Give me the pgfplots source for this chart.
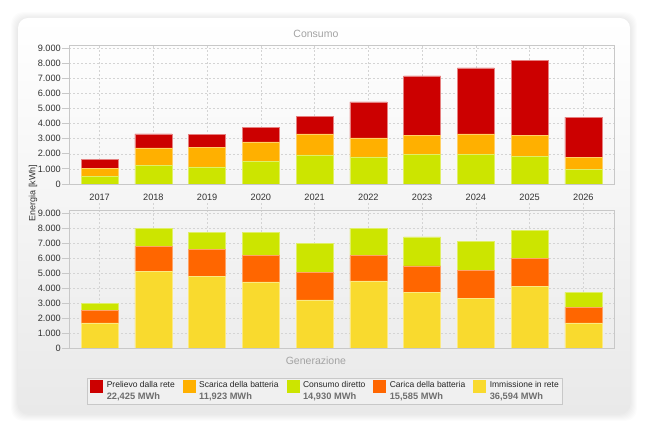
\documentclass[border=0pt]{standalone}
\usepackage{pgfplots}
\pgfplotsset{compat=1.18}
\usepackage{pgfplotstable}
\usepackage{fontspec}
\setmainfont{Liberation Sans}

\definecolor{cRed}{HTML}{CC0000}
\definecolor{cOra}{HTML}{FFB000}
\definecolor{cGrn}{HTML}{CCE500}
\definecolor{cDor}{HTML}{FF6600}
\definecolor{cYel}{HTML}{F9DA2E}
\definecolor{panelbot}{HTML}{E9E9E9}
\definecolor{ttl}{HTML}{A3A3A3}
\definecolor{tickc}{HTML}{333333}
\definecolor{legnum}{HTML}{6E6E6E}
\definecolor{framec}{HTML}{C8C8C8}
\definecolor{gridc}{HTML}{D4D4D4}
\definecolor{legbg}{HTML}{F0F0F0}

\pgfplotstableread{
x g o r
0 480 540 598
1 1210 1184 931
2 1130 1309 842
3 1520 1273 954
4 1930 1395 1153
5 1800 1259 2372
6 1940 1275 3946
7 1975 1350 4368
8 1840 1375 4966
9 990 761 2683
}\topdata

\pgfplotstableread{
x y c g
0 1667 822 480
1 5089 1667 1210
2 4778 1778 1130
3 4400 1778 1520
4 3200 1822 1930
5 4467 1689 1800
6 3711 1756 1940
7 3333 1823 1975
8 4089 1889 1840
9 1667 1044 990
}\botdata

\newcommand{\legtxt}[2]{\begin{tabular}{@{}l@{}}#1\\\textcolor{legnum}{\fontsize{9.3bp}{12.3bp}\selectfont\bfseries #2}\end{tabular}}

\pgfplotsset{
  common/.style={
    scale only axis, width=545bp,
    ybar stacked, bar width=37bp,
    xmin=-0.57, xmax=9.57, ymin=0, ymax=9200,
    ytick={0,1000,...,9000},
    xtick={0,...,9},
    grid=major,
    grid style={gridc, dash pattern=on 2bp off 2bp, line width=0.5bp},
    axis line style={framec, line width=0.8bp},
    tick align=outside, major tick length=7bp,
    ytick pos=left,
    y tick style={framec, line width=0.8bp},
    yticklabel style={font=\fontsize{9.2bp}{11bp}\selectfont, text=tickc, inner sep=1bp},
    xticklabel style={font=\fontsize{9.2bp}{11bp}\selectfont, text=tickc},
    scaled y ticks=false,
    /pgf/number format/1000 sep={.},
    /pgf/number format/assume math mode=true,
  },
  sqimg/.style={legend image code/.code={\fill[#1] (0bp,-1.5bp) rectangle (12bp,10.5bp);}},
}

\begin{document}
\begin{tikzpicture}[font=\fontsize{9bp}{11bp}\selectfont]
\useasboundingbox (0,0) rectangle (648bp,432bp);
\fill[white] (0,0) rectangle (648bp,432bp);
\foreach \k in {1,...,7} {
  \fill[black, opacity=0.012, rounded corners=12bp] ({(18-\k)*1bp},{(18-\k)*1bp}) rectangle ({(630+\k)*1bp},{(413+\k)*1bp});
}
\shade[top color=white, bottom color=panelbot, rounded corners=10bp] (18bp,19bp) rectangle (630bp,414bp);

\begin{axis}[common,
  at={(69bp,248bp)}, anchor=south west, height=139bp,
  xtick pos=left,
  x tick style={draw=none},
  xticklabels={2017,2018,2019,2020,2021,2022,2023,2024,2025,2026},
  title=Consumo,
  title style={at={(axis description cs:0.453,1)}, anchor=center, yshift=5bp,
    font=\fontsize{10.5bp}{12bp}\selectfont, text=ttl},
  ylabel={Energia [kWh]},
  ylabel style={at={(axis description cs:-0.066,-0.065)}, anchor=center, text=tickc,
    font=\fontsize{9bp}{11bp}\selectfont},
]
\addplot[fill=cGrn, draw=cGrn!60!white, line width=0.5bp] table[x=x,y=g]{\topdata};
\addplot[fill=cOra, draw=cOra!60!white, line width=0.5bp] table[x=x,y=o]{\topdata};
\addplot[fill=cRed, draw=cRed!50!white, line width=0.5bp] table[x=x,y=r]{\topdata};
\end{axis}

\begin{axis}[common,
  at={(69bp,84bp)}, anchor=south west, height=138bp,
  xtick pos=right,
  xticklabels={},
  x tick style={gridc, dash pattern=on 2bp off 2bp, line width=0.5bp},
  xlabel=Generazione,
  xlabel style={at={(axis description cs:0.453,-0.092)}, anchor=center,
    font=\fontsize{10.5bp}{12bp}\selectfont, text=ttl},
  legend columns=5,
  legend cell align=left,
  legend style={at={(axis description cs:0.0325,-0.2174)}, anchor=north west,
    draw=framec, fill=legbg, inner xsep=3.5bp, inner ysep=0.5bp,
    font=\fontsize{8.5bp}{12.3bp}\selectfont, text=black!85,
    /tikz/every odd column/.style={column sep=4bp},
    /tikz/every even column/.style={column sep=8bp},
    nodes={inner sep=0pt, anchor=west, text depth=, text height=}},
]
\addlegendimage{sqimg=cRed}
\addlegendentry{\legtxt{Prelievo dalla rete}{22,425 MWh}}
\addlegendimage{sqimg=cOra}
\addlegendentry{\legtxt{Scarica della batteria}{11,923 MWh}}
\addlegendimage{sqimg=cGrn}
\addlegendentry{\legtxt{Consumo diretto}{14,930 MWh}}
\addlegendimage{sqimg=cDor}
\addlegendentry{\legtxt{Carica della batteria}{15,585 MWh}}
\addlegendimage{sqimg=cYel}
\addlegendentry{\legtxt{Immissione in rete}{36,594 MWh}}
\addplot[forget plot, fill=cYel, draw=cYel!60!white, line width=0.5bp] table[x=x,y=y]{\botdata};
\addplot[forget plot, fill=cDor, draw=cDor!60!white, line width=0.5bp] table[x=x,y=c]{\botdata};
\addplot[forget plot, fill=cGrn, draw=cGrn!60!white, line width=0.5bp] table[x=x,y=g]{\botdata};
\end{axis}
\end{tikzpicture}
\end{document}
